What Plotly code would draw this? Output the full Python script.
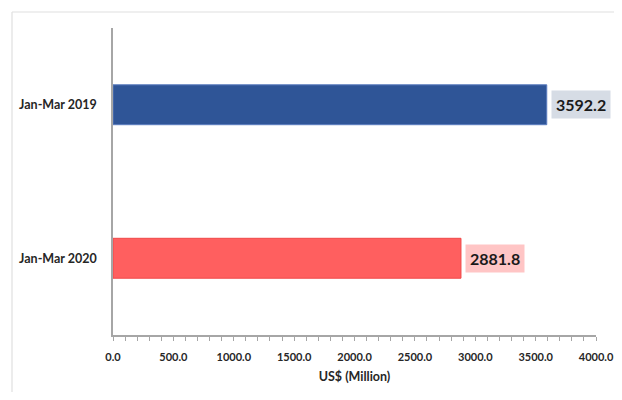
import plotly.graph_objects as go

categories = ["Jan-Mar 2019", "Jan-Mar 2020"]
values = [3592.2, 2881.8]
bar_colors = ["#2F5597", "#FF5F5F"]
bar_line_colors = ["#5B7DBF", "#F04848"]
label_bg = ["#D6DCE5", "#FFC5C5"]
x_tickvals = [0, 500, 1000, 1500, 2000, 2500, 3000, 3500, 4000]
x_ticktext = ["0.0", "500.0", "1000.0", "1500.0", "2000.0", "2500.0", "3000.0", "3500.0", "4000.0"]

FONT = "Lato"
OFF = 8  # page body margin
W, H = 622 - 2 * OFF, 400 - 2 * OFF
L, T = 113 - OFF, 28 - OFF
R = W - (596 - OFF)
B = H - (335 - OFF)
W_PLOT = W - L - R
H_PLOT = H - T - B

fig = go.Figure()
fig.add_trace(go.Bar(
    y=categories, x=values, orientation="h",
    marker=dict(color=bar_colors, line=dict(color=bar_line_colors, width=1)),
    width=0.26, hoverinfo="x+y",
))

for c, v, bg in zip(categories, values, label_bg):
    fig.add_annotation(
        x=v, y=c, xref="x", yref="y", text=f"<b>{v:.1f}</b>",
        showarrow=False, xanchor="left", xshift=4,
        font=dict(family=FONT, size=16, color="#1a1a1a"),
        bgcolor=bg, borderpad=4,
    )

bx = 12 - OFF
by = 12 - OFF
fig.add_shape(type="line", xref="paper", yref="paper",
              x0=(bx - L) / W_PLOT, x1=(W + 20 - L) / W_PLOT,
              y0=1 + (T - by) / H_PLOT, y1=1 + (T - by) / H_PLOT,
              line=dict(color="#E0E0E0", width=1.2))
fig.add_shape(type="line", xref="paper", yref="paper",
              x0=(bx - L) / W_PLOT, x1=(bx - L) / W_PLOT,
              y0=1 + (T - by) / H_PLOT, y1=-(B + 20) / H_PLOT,
              line=dict(color="#E0E0E0", width=1.2))

fig.update_layout(
    width=W, height=H,
    margin=dict(l=L, r=R, t=T, b=B, autoexpand=False),
    paper_bgcolor="white", plot_bgcolor="white",
    showlegend=False,
    font=dict(family=FONT, color="#262626"),
    xaxis=dict(
        range=[0, 4000], tickvals=x_tickvals, ticktext=x_ticktext,
        showgrid=False, zeroline=False, automargin=False,
        showline=True, linecolor="#A6A6A6", linewidth=1.5,
        ticks="outside", ticklen=4, tickcolor="#A6A6A6", tickwidth=1,
        minor=dict(dtick=100, ticks="outside", ticklen=4, tickcolor="#A6A6A6", tickwidth=1),
        ticklabelstandoff=7, ticklabeloverflow="allow",
        tickfont=dict(family=FONT, size=11, color="#262626", weight="bold"),
        title=dict(text="<b>US$ (Million)</b>", font=dict(family=FONT, size=12.5, color="#262626"), standoff=10),
        fixedrange=True,
    ),
    yaxis=dict(
        categoryorder="array", categoryarray=categories, autorange="reversed",
        range=[1.5, -0.5], automargin=False,
        showgrid=False, zeroline=False,
        showline=True, linecolor="#A6A6A6", linewidth=1.5,
        ticks="", ticklabelstandoff=12,
        tickfont=dict(family=FONT, size=12.5, color="#262626", weight="bold"),
        fixedrange=True,
    ),
)

fig.write_html("out.html")
